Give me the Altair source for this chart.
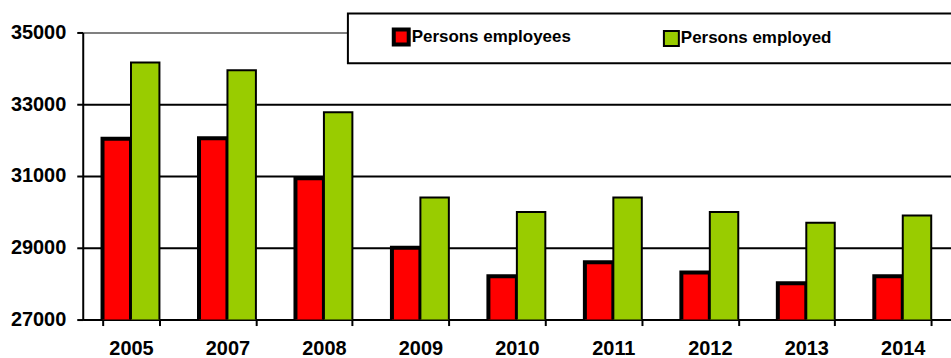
import altair as alt
import pandas as pd

years = ["2005", "2007", "2008", "2009", "2010", "2011", "2012", "2013", "2014"]
employees = [32040, 32050, 30940, 29000, 28210, 28600, 28310, 28010, 28210]
employed = [34160, 33950, 32780, 30400, 30000, 30400, 30000, 29700, 29900]
series_names = ["Persons employees", "Persons employed"]
series_colors = ["#FF0000", "#99CC00"]
y_ticks = [27000, 29000, 31000, 33000, 35000]

rows = []
for i, yr in enumerate(years):
    rows.append({"year": yr, "series": series_names[0], "value": employees[i]})
    rows.append({"year": yr, "series": series_names[1], "value": employed[i]})
df = pd.DataFrame(rows)

FONT = "Liberation Sans"

bars = alt.Chart(df).mark_bar(stroke="black", clip=True).encode(
    x=alt.X("year:N", sort=years, title=None,
            scale=alt.Scale(paddingInner=0.41, paddingOuter=0.205),
            axis=alt.Axis(labelAngle=0, labelFont=FONT, labelFontSize=20,
                          labelFontWeight="bold", labelColor="black",
                          tickBand="extent", tickSize=6, tickWidth=2,
                          tickColor="black", domainColor="black",
                          domainWidth=2, labelPadding=13, grid=False)),
    xOffset=alt.XOffset("series:N", sort=series_names,
                        scale=alt.Scale(paddingInner=0, paddingOuter=0)),
    y=alt.Y("value:Q", title=None,
            scale=alt.Scale(domain=[27000, 35000], nice=False, zero=False),
            axis=alt.Axis(values=y_ticks, format="d", labelFont=FONT, labelFontSize=20,
                          labelFontWeight="bold", labelColor="black",
                          tickSize=6, tickWidth=2, tickColor="black",
                          domainColor="black", domainWidth=2, labelPadding=11,
                          grid=True, gridWidth=2,
                          gridColor=alt.condition("datum.value == 35000",
                                                  alt.value("#808080"),
                                                  alt.value("black")))),
    color=alt.Color("series:N", sort=series_names,
                    scale=alt.Scale(domain=series_names, range=series_colors),
                    legend=alt.Legend(title=None, orient="none", direction="horizontal",
                                      legendX=310, legendY=-5,
                                      labelFont=FONT, labelFontSize=17,
                                      labelFontWeight="bold", labelColor="black",
                                      symbolType="square", symbolSize=225,
                                      symbolStrokeColor="black", symbolStrokeWidth=2.5,
                                      symbolOpacity=1, labelOffset=1,
                                      columnPadding=89)),
    strokeWidth=alt.StrokeWidth("series:N", sort=series_names,
                                scale=alt.Scale(domain=series_names, range=[4, 2]),
                                legend=None),
)

box = alt.Chart(pd.DataFrame({"k": [0]})).mark_rect(
    fill="white", stroke="black", strokeWidth=2
).encode(
    x=alt.value(266), x2=alt.value(900), y=alt.value(-19), y2=alt.value(31)
)

chart = alt.layer(box, bars).properties(
    width=871, height=288,
    autosize=alt.AutoSizeParams(type="none"),
    padding={"left": 83, "top": 32, "right": 0, "bottom": 38},
).configure_view(stroke=None).configure(background="white")

chart.save("out.html", embed_options={"renderer": "svg", "actions": False})
